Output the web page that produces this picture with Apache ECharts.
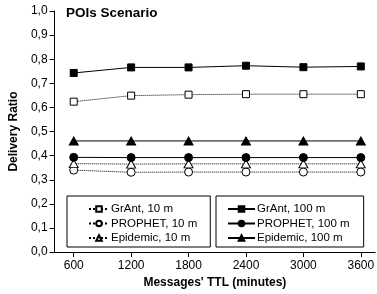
<!DOCTYPE html>
<html>
<head>
<meta charset="utf-8">
<script src="https://cdn.jsdelivr.net/npm/echarts@6/dist/echarts.min.js"></script>
<style>
  html, body { margin: 0; padding: 0; background: #fff; }
  #chart { width: 377px; height: 294px; }
</style>
</head>
<body>
<div id="chart"></div>
<script>
// x categories (TTL in minutes)
var ttl = [600, 1200, 1800, 2400, 3000, 3600];

// delivery ratio, radio range 10 m
var grant10 = [0.624, 0.649, 0.653, 0.655, 0.655, 0.655];
var prophet10 = [0.340, 0.331, 0.332, 0.332, 0.332, 0.332];
var epidemic10 = [0.367, 0.365, 0.366, 0.366, 0.366, 0.366];

// delivery ratio, radio range 100 m
var grant100 = [0.743, 0.766, 0.766, 0.773, 0.767, 0.770];
var prophet100 = [0.393, 0.392, 0.392, 0.392, 0.392, 0.392];
var epidemic100 = [0.461, 0.461, 0.461, 0.461, 0.461, 0.461];

var font = 'Liberation Sans, Arial, sans-serif';

function pairs(vals) {
  return ttl.map(function (t, i) { return [t, vals[i]]; });
}

function mk(name, vals, symbol, size, filled) {
  return {
    name: name,
    type: 'line',
    data: pairs(vals),
    symbol: symbol,
    symbolSize: size,
    showSymbol: true,
    z: filled ? 3 : 2,
    itemStyle: {
      color: filled ? '#000' : '#fff',
      borderColor: '#000',
      borderWidth: 1,
      opacity: 1
    },
    lineStyle: {
      color: '#000',
      width: 1,
      type: filled ? 'solid' : 'dotted'
    },
    emphasis: { disabled: true },
    animation: false
  };
}

var myChart = echarts.init(document.getElementById('chart'));

var legendCommon = {
  orient: 'vertical',
  itemHeight: 7,
  itemGap: 2.5,
  borderColor: '#000',
  borderWidth: 1,
  borderRadius: 0,
  selectedMode: false,
  textStyle: { fontFamily: font, fontSize: 11.5, color: '#000', padding: [0, 0, 0, -3] }
};

var option = {
  backgroundColor: '#fff',
  animation: false,
  title: {
    text: 'POIs Scenario',
    left: 66,
    top: 6,
    padding: 0,
    textStyle: { fontFamily: font, fontSize: 13.5, fontWeight: 'bold', color: '#000' }
  },
  legend: [
    Object.assign({}, legendCommon, {
      left: 67,
      top: 196,
      itemWidth: 20,
      padding: [7, 13, 3, 21],
      data: ['GrAnt, 10 m', 'PROPHET, 10 m', 'Epidemic, 10 m']
    }),
    Object.assign({}, legendCommon, {
      left: 216,
      top: 196,
      itemWidth: 27,
      padding: [7, 14, 3, 11],
      data: ['GrAnt, 100 m', 'PROPHET, 100 m', 'Epidemic, 100 m']
    })
  ],
  grid: { left: 51, right: 0, top: 11, bottom: 39, containLabel: false },
  xAxis: {
    type: 'value',
    min: 400,
    max: 3750,
    name: "Messages' TTL (minutes)",
    nameLocation: 'middle',
    nameGap: 21,
    nameTextStyle: { fontFamily: font, fontSize: 12, fontWeight: 'bold', color: '#000' },
    axisLine: { show: true, lineStyle: { color: '#000', width: 1 } },
    axisTick: { show: true, customValues: ttl, length: 5, lineStyle: { color: '#000' } },
    axisLabel: {
      customValues: ttl,
      margin: 8,
      fontFamily: font,
      fontSize: 12,
      color: '#000',
      formatter: function (v) { return String(v); }
    },
    splitLine: { show: false }
  },
  yAxis: {
    type: 'value',
    min: 0,
    max: 1,
    interval: 0.1,
    name: 'Delivery Ratio',
    nameLocation: 'middle',
    nameGap: 27,
    nameTextStyle: { fontFamily: font, fontSize: 12, fontWeight: 'bold', color: '#000' },
    axisLine: { show: true, lineStyle: { color: '#000', width: 1 } },
    axisTick: { show: true, length: 5, lineStyle: { color: '#000' } },
    axisLabel: {
      margin: 7,
      fontFamily: font,
      fontSize: 12,
      color: '#000',
      formatter: function (v) { return v.toFixed(1).replace('.', ','); }
    },
    splitLine: { show: false }
  },
  series: [
    mk('GrAnt, 10 m', grant10, 'rect', 7, false),
    mk('PROPHET, 10 m', prophet10, 'circle', 8, false),
    mk('Epidemic, 10 m', epidemic10, 'triangle', [9, 8], false),
    mk('GrAnt, 100 m', grant100, 'rect', 7, true),
    mk('PROPHET, 100 m', prophet100, 'circle', 8, true),
    mk('Epidemic, 100 m', epidemic100, 'triangle', [9, 8], true)
  ]
};

myChart.setOption(option);
</script>
</body>
</html>
